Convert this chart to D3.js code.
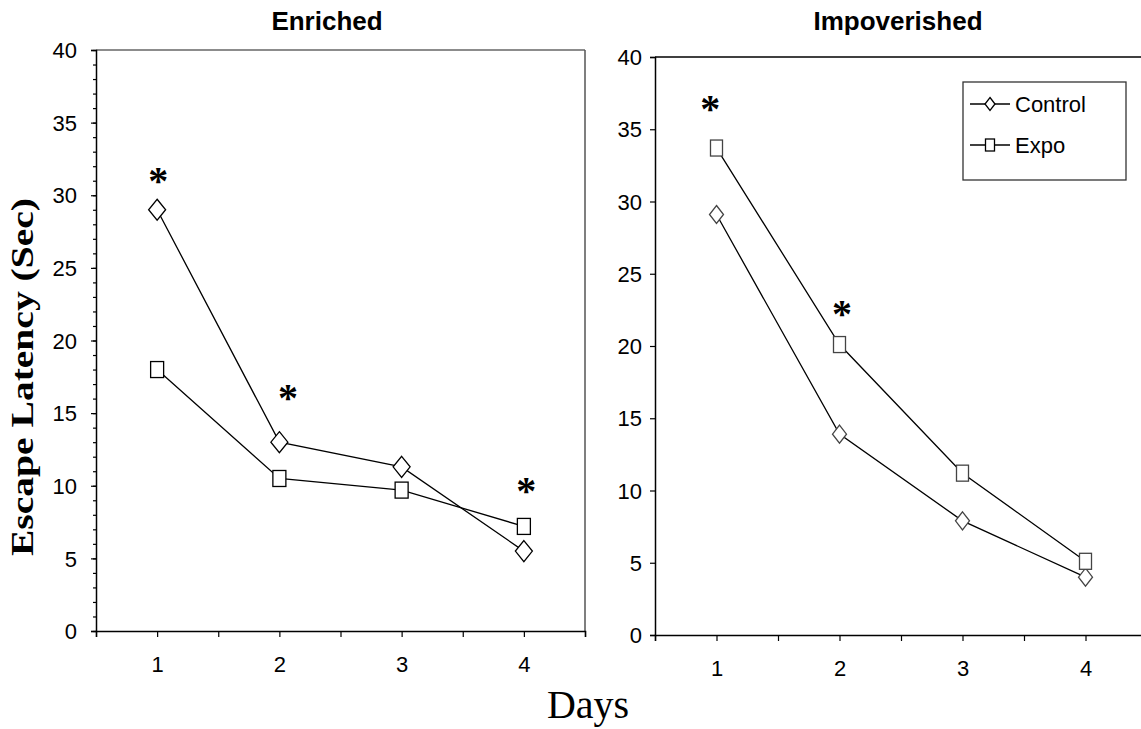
<!DOCTYPE html>
<html>
<head>
<meta charset="utf-8">
<script src="https://cdnjs.cloudflare.com/ajax/libs/d3/7.8.5/d3.min.js"></script>
<style>
  body { margin: 0; background: #fff; }
  svg { display: block; }
</style>
</head>
<body>
<div id="chart"></div>
<script>
"use strict";
// valeurs
const days = [1, 2, 3, 4];
const yTicks = [0, 5, 10, 15, 20, 25, 30, 35, 40];
const seriesNames = ["Control", "Expo"];
const enrichedControl = [29.0, 13.0, 11.3, 5.5];
const enrichedExpo = [18.0, 10.5, 9.7, 7.2];
const impovControl = [29.1, 13.9, 7.9, 4.0];
const impovExpo = [33.7, 20.1, 11.2, 5.1];
// astérisques (jour, hauteur)
const enrichedStars = [[1.01, 31.4], [2.07, 16.45], [4.02, 10.05]];
const impovStars = [[0.95, 36.8], [2.02, 22.6]];

const W = 1141, H = 729;
const svg = d3.select("#chart").append("svg")
    .attr("width", W).attr("height", H);

const panels = [
    {title: "Enriched", titleX: 327, control: enrichedControl, expo: enrichedExpo, stars: enrichedStars,
     x0: 96, x1: 585, yTop: 50, yBot: 631, minor: true, border: "#666", frame: "#555",
     dia: [8.5, 10.5], sq: [13, 16], mstroke: "#000"},
    {title: "Impoverished", titleX: 898, control: impovControl, expo: impovExpo, stars: impovStars,
     x0: 655, x1: 1147, yTop: 57, yBot: 635, minor: false, border: "#000", frame: null,
     dia: [7, 9], sq: [12, 16], mstroke: "#444"}
];

function diamond(w, h) {
    return `M0,${-h}L${w},0L0,${h}L${-w},0Z`;
}

panels.forEach(p => {
    const x = d3.scaleLinear().domain([0.5, 4.5]).range([p.x0, p.x1]);
    const y = d3.scaleLinear().domain([0, 40]).range([p.yBot, p.yTop]);
    const g = svg.append("g");

    // cadre haut / droit
    g.append("line").attr("x1", p.x0).attr("x2", p.x1)
        .attr("y1", p.yTop).attr("y2", p.yTop)
        .attr("stroke", p.border).attr("stroke-width", 1.5);
    if (p.frame) {
        g.append("line").attr("x1", p.x1).attr("x2", p.x1)
            .attr("y1", p.yTop).attr("y2", p.yBot)
            .attr("stroke", p.frame).attr("stroke-width", 1.5);
    }

    // axe y
    if (p.minor) {
        const minorAxis = d3.axisLeft(y).ticks(40).tickSize(3).tickFormat("");
        g.append("g").attr("transform", `translate(${p.x0},0)`).call(minorAxis)
            .call(s => s.select(".domain").remove())
            .selectAll("line").attr("stroke", "#000").attr("stroke-width", 1.2);
    }
    const yAxis = d3.axisLeft(y).tickValues(yTicks).tickSize(5).tickPadding(p.minor ? 14 : 8)
        .tickFormat(d3.format("d"));
    const ya = g.append("g").attr("transform", `translate(${p.x0},0)`).call(yAxis);
    ya.select(".domain").attr("stroke", "#000").attr("stroke-width", 1.5);
    ya.selectAll("line").attr("stroke", "#000").attr("stroke-width", 1.2);
    ya.selectAll("text").attr("font-family", "'Liberation Sans', Arial, sans-serif")
        .attr("font-size", 22).attr("fill", "#000").attr("dy", "0.35em");

    // axe x
    const xAxis = d3.axisBottom(x).tickValues(d3.range(0.5, 4.51, 0.5)).tickSize(6)
        .tickPadding(19).tickFormat(d => Number.isInteger(d) && days.includes(d) ? d : "");
    const xa = g.append("g").attr("transform", `translate(0,${p.yBot})`).call(xAxis);
    xa.select(".domain").attr("stroke", "#000").attr("stroke-width", 1.5);
    xa.selectAll("line").attr("stroke", "#000").attr("stroke-width", 1.2);
    xa.selectAll("text").attr("font-family", "'Liberation Sans', Arial, sans-serif")
        .attr("font-size", 22).attr("fill", "#000");

    // titre
    g.append("text").attr("x", p.titleX)
        .attr("y", 30).attr("text-anchor", "middle")
        .attr("font-family", "'Liberation Sans', Arial, sans-serif")
        .attr("font-weight", "bold").attr("font-size", 26)
        .text(p.title);

    // lignes
    const line = d3.line().x((d, i) => x(days[i])).y(d => y(d));
    [p.control, p.expo].forEach(vals => {
        g.append("path").datum(vals).attr("d", line)
            .attr("fill", "none").attr("stroke", "#000").attr("stroke-width", 1.3);
    });

    // marqueurs
    g.selectAll(".dia").data(p.control).join("path").attr("class", "dia")
        .attr("transform", (d, i) => `translate(${x(days[i])},${y(d)})`)
        .attr("d", diamond(p.dia[0], p.dia[1]))
        .attr("fill", "#fff").attr("stroke", p.mstroke).attr("stroke-width", 1.3);
    g.selectAll(".sq").data(p.expo).join("rect").attr("class", "sq")
        .attr("x", (d, i) => x(days[i]) - p.sq[0] / 2)
        .attr("y", d => y(d) - p.sq[1] / 2)
        .attr("width", p.sq[0]).attr("height", p.sq[1])
        .attr("fill", "#fff").attr("stroke", p.mstroke).attr("stroke-width", 1.3);

    // astérisques
    g.selectAll(".star").data(p.stars).join("text").attr("class", "star")
        .attr("x", d => x(d[0])).attr("y", d => y(d[1]) + 19)
        .attr("text-anchor", "middle")
        .attr("font-family", "'Liberation Serif', 'Times New Roman', serif")
        .attr("font-weight", "bold").attr("font-size", 40)
        .text("*");
});

// légende (panneau de droite)
const lg = svg.append("g").attr("transform", "translate(963,82)");
lg.append("rect").attr("width", 163).attr("height", 98)
    .attr("fill", "#fff").attr("stroke", "#333").attr("stroke-width", 1.3);
seriesNames.forEach((name, i) => {
    const row = lg.append("g").attr("transform", `translate(0,${22 + i * 41})`);
    row.append("line").attr("x1", 7).attr("x2", 47).attr("y1", 0).attr("y2", 0)
        .attr("stroke", "#000").attr("stroke-width", 1.3);
    if (i === 0) {
        row.append("path").attr("d", diamond(5, 6.5)).attr("transform", "translate(27,0)")
            .attr("fill", "#fff").attr("stroke", "#000").attr("stroke-width", 1.3);
    } else {
        row.append("rect").attr("x", 22.5).attr("y", -6).attr("width", 9).attr("height", 12)
            .attr("fill", "#fff").attr("stroke", "#000").attr("stroke-width", 1.3);
    }
    row.append("text").attr("x", 52).attr("y", 0).attr("dy", "0.36em")
        .attr("font-family", "'Liberation Sans', Arial, sans-serif")
        .attr("font-size", 22).text(name);
});

// titres des axes
svg.append("text")
    .attr("transform", "translate(33,377) rotate(-90)")
    .attr("text-anchor", "middle")
    .attr("font-family", "'Liberation Serif', 'Times New Roman', serif")
    .attr("font-weight", "bold").attr("font-size", 31)
    .attr("textLength", 358).attr("lengthAdjust", "spacingAndGlyphs")
    .text("Escape Latency (Sec)");
svg.append("text").attr("x", 588).attr("y", 718).attr("text-anchor", "middle")
    .attr("font-family", "'Liberation Serif', 'Times New Roman', serif")
    .attr("font-size", 40).text("Days");
</script>
</body>
</html>
